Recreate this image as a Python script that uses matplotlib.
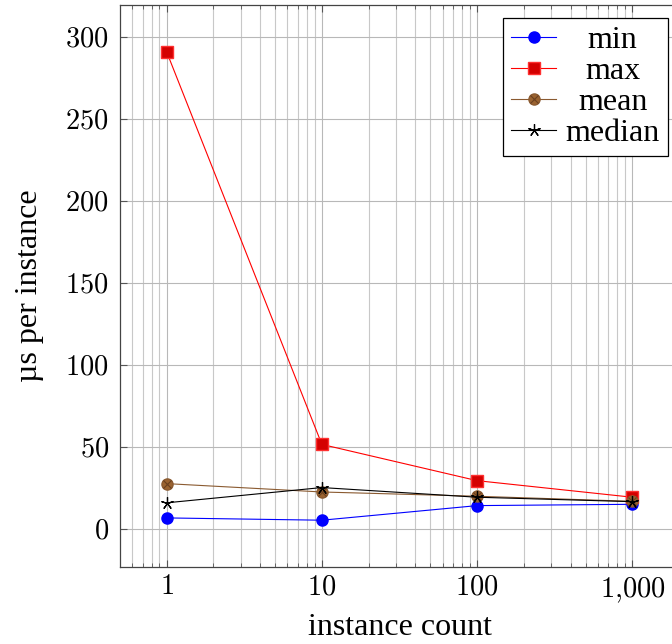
import matplotlib
matplotlib.use("Agg")
import matplotlib.pyplot as plt
from matplotlib.ticker import FixedLocator, LogLocator, NullFormatter, FuncFormatter
from matplotlib.legend_handler import HandlerTuple

counts = [1, 10, 100, 1000]
min_vals = [6.9, 5.5, 14.4, 15.2]
max_vals = [291, 51.7, 29.6, 19.5]
mean_vals = [27.8, 22.7, 20.1, 17.0]
median_vals = [16.1, 25.4, 19.5, 16.8]
yticks = [0, 50, 100, 150, 200, 250, 300]
xticks = [1, 10, 100, 1000]
xtick_labels = ["$1$", "$10$", "$100$", "$1{,}000$"]

plt.rcParams["mathtext.fontset"] = "cm"
plt.rcParams["font.family"] = ["Liberation Serif", "DejaVu Serif"]

fig = plt.figure(figsize=(6.72, 6.44), dpi=100)
ax = fig.add_axes([0.1786, 0.1196, 0.8318, 0.8727])

lw = 0.8
h_min, = ax.plot(counts, min_vals, color="blue", lw=lw, marker="o", ms=8, label="min", zorder=5)
h_max, = ax.plot(counts, max_vals, color="red", lw=lw, marker="s", ms=8, mfc="#d40000", mec="#ff3030",
                 label="max", zorder=5)
h_mean, = ax.plot(counts, mean_vals, color="#8a5a30", lw=lw, marker="o", ms=8, mfc="#9a6330",
                  mec="#8a5a30", label="mean", zorder=5)
h_meanx, = ax.plot(counts, mean_vals, ls="none", marker="x", ms=5.5, mew=0.8, color="#6a4020", zorder=5.5)
h_med, = ax.plot(counts, median_vals, color="black", lw=lw, marker=(5, 2, 0), ms=9, mew=0.9,
                 label="median", zorder=6)

ax.set_xscale("log")
ax.set_xlim(10 ** -0.3, 10 ** 3.3)
ax.set_ylim(-23, 319.5)

ax.xaxis.set_major_locator(FixedLocator(xticks))
ax.xaxis.set_major_formatter(FuncFormatter(lambda v, p: dict(zip(xticks, xtick_labels)).get(int(round(v)), "")))
ax.xaxis.set_minor_locator(LogLocator(base=10, subs=range(2, 10), numticks=20))
ax.xaxis.set_minor_formatter(NullFormatter())
ax.yaxis.set_major_locator(FixedLocator(yticks))
ax.yaxis.set_major_formatter(FuncFormatter(lambda v, p: f"${int(v)}$"))

ax.grid(True, which="major", color="#b8b8b8", lw=0.8)
ax.grid(True, which="minor", axis="x", color="#c8c8c8", lw=0.8)
ax.set_axisbelow(True)

ax.tick_params(which="both", direction="in", top=True, right=True, labelsize=20.5, color="#555555")
ax.tick_params(which="major", length=5)
ax.tick_params(which="minor", length=3)
ax.tick_params(axis="x", pad=6)
ax.tick_params(axis="y", pad=8)

for s in ax.spines.values():
    s.set_color("#444444")
    s.set_linewidth(0.9)

ax.set_xlabel("instance count", fontsize=23, labelpad=6)
ax.set_ylabel("µs per instance", fontsize=23, labelpad=15)

leg = ax.legend([h_min, h_max, (h_mean, h_meanx), h_med], ["min", "max", "mean", "median"],
                handler_map={tuple: HandlerTuple(ndivide=1)},
                loc="upper right", bbox_to_anchor=(0.980, 0.977), fontsize=23, frameon=True, fancybox=False,
                edgecolor="black", framealpha=1, handlelength=1.4, borderpad=0.25, labelspacing=0.05,
                handletextpad=0.3, borderaxespad=0)
leg.get_frame().set_linewidth(0.9)

# center legend texts in their column
fig.canvas.draw()
r = fig.canvas.get_renderer()
widths = [t.get_window_extent(r).width for t in leg.get_texts()]
mw = max(widths)
for t, w in zip(leg.get_texts(), widths):
    t.set_x((mw - w) / 2)

fig.savefig("out.png", dpi=100)
